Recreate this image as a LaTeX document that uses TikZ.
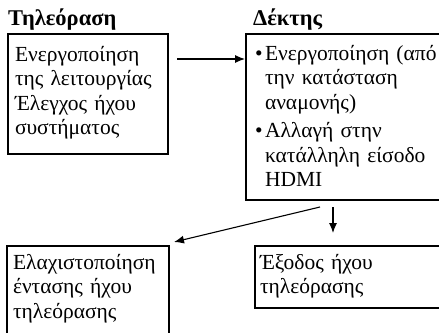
\documentclass[tikz,border=0pt]{standalone}
\usepackage{fontspec}
\setmainfont{Liberation Serif}
\usetikzlibrary{positioning, arrows.meta}

\begin{document}
\begin{tikzpicture}[
    x=1pt, y=-1pt,
    box/.style={draw=black, line width=2pt, rectangle, anchor=north west, align=left, inner xsep=7pt, inner ysep=0pt, font=\fontsize{21.5}{24.5}\selectfont},
    title/.style={anchor=base west, inner sep=0pt, font=\fontsize{22.5}{24}\selectfont\bfseries},
    arrow/.style={line width=1.1pt, -{Latex[length=10pt, width=8pt]}}
]
\useasboundingbox (0,0) rectangle (439,332);

% Knoten
\node[title] (tvtitle) at (8,25) {Τηλεόραση};
\node[title] (rxtitle) at (253,25) {Δέκτης};
\node[box, text width=146pt, text height=27pt, text depth=93pt] (tv) at (7,33) {Ενεργοποίηση\\ της λειτουργίας\\ Έλεγχος ήχου\\ συστήματος};
\node[box, inner xsep=9pt, text width=190pt, text height=26pt, text depth=140pt] (rx) at (245,33) {%
    \makebox[10pt][l]{\textbullet}Ενεργοποίηση (από\\
    \hspace*{10pt}την κατάσταση\\
    \hspace*{10pt}αναμονής)\\[4pt]
    \makebox[10pt][l]{\textbullet}Αλλαγή στην\\
    \hspace*{10pt}κατάλληλη είσοδο\\
    \hspace*{10pt}HDMI};
\node[box, inner xsep=5pt, text width=180pt, text height=23pt, text depth=39pt] (out) at (254,245) {Έξοδος ήχου\\ τηλεόρασης};
\node[box, inner xsep=6pt, text width=150pt, text height=23pt, text depth=80pt] (vol) at (6,245) {Ελαχιστοποίηση\\ έντασης ήχου\\ τηλεόρασης};

% Pfeile zwischen Knoten
\draw[arrow] ([shift={(8,26)}]tv.north east) -- ([shift={(0,26)}]rx.north west);
\draw[arrow] ([shift={(88,6)}]rx.south west) -- ([shift={(79,-12)}]out.north west);
\draw[arrow] ([shift={(75,6)}]rx.south west) -- ([shift={(4,-3)}]vol.north east);

\end{tikzpicture}
\end{document}
